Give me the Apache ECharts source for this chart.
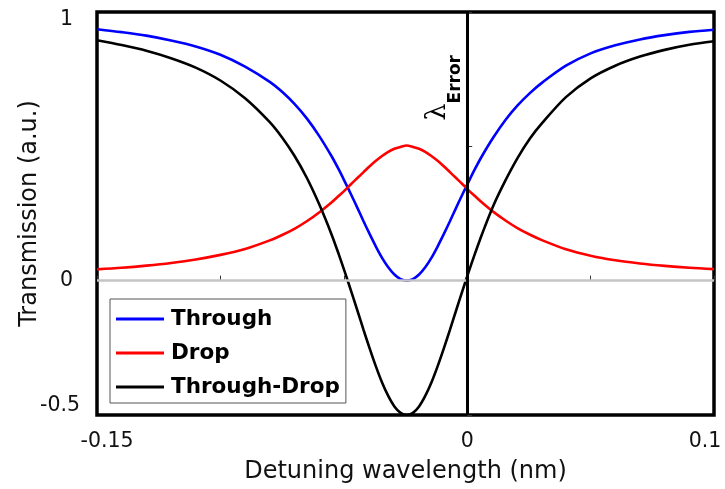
<!DOCTYPE html>
<html>
<head>
<meta charset="utf-8">
<script src="https://cdn.jsdelivr.net/npm/echarts@6/dist/echarts.min.js"></script>
<style>
  html, body { margin: 0; padding: 0; background: #fff; }
  #chart { width: 725px; height: 489px; }
</style>
</head>
<body>
<div id="chart"></div>
<script>
// Detuning wavelength samples (nm), shared by the three traces
const detuning = [
  -0.150, -0.140, -0.130, -0.120, -0.110, -0.100, -0.090, -0.080, -0.075, -0.070,
  -0.065, -0.060, -0.055, -0.052, -0.0495, -0.047, -0.0445, -0.042, -0.0395, -0.037,
  -0.0345, -0.032, -0.0295, -0.027, -0.0245, -0.022, -0.0195, -0.017, -0.0145, -0.012,
  -0.0095, -0.007, -0.0045, -0.002, 0.0005, 0.003, 0.006, 0.0105, 0.0155, 0.0205,
  0.0255, 0.0305, 0.040, 0.050, 0.060, 0.070, 0.080, 0.090, 0.100
];

// Through port transmission
const through = [
  0.936, 0.925, 0.912, 0.894, 0.872, 0.841, 0.797, 0.740, 0.703, 0.658,
  0.604, 0.539, 0.464, 0.413, 0.367, 0.320, 0.271, 0.221, 0.173, 0.127,
  0.085, 0.050, 0.023, 0.006, 0.000, 0.006, 0.023, 0.050, 0.085, 0.127,
  0.173, 0.221, 0.271, 0.320, 0.367, 0.413, 0.464, 0.532, 0.598, 0.653,
  0.699, 0.738, 0.800, 0.846, 0.876, 0.898, 0.914, 0.926, 0.934
];

// Drop port transmission
const drop = [
  0.042, 0.048, 0.056, 0.066, 0.079, 0.096, 0.118, 0.150, 0.170, 0.193,
  0.221, 0.254, 0.291, 0.316, 0.337, 0.360, 0.382, 0.404, 0.426, 0.446,
  0.464, 0.479, 0.491, 0.498, 0.503, 0.498, 0.491, 0.479, 0.464, 0.446,
  0.426, 0.404, 0.382, 0.360, 0.337, 0.316, 0.291, 0.257, 0.224, 0.195,
  0.171, 0.150, 0.117, 0.093, 0.076, 0.064, 0.055, 0.048, 0.043
];

// Difference signal: through minus drop
const throughMinusDrop = [
  0.895, 0.877, 0.856, 0.828, 0.793, 0.745, 0.679, 0.590, 0.533, 0.465,
  0.383, 0.285, 0.173, 0.097, 0.030, -0.040, -0.111, -0.183, -0.253, -0.319,
  -0.379, -0.429, -0.468, -0.492, -0.500, -0.492, -0.468, -0.429, -0.379, -0.319,
  -0.253, -0.183, -0.111, -0.040, 0.030, 0.097, 0.173, 0.277, 0.373, 0.458,
  0.530, 0.588, 0.683, 0.753, 0.800, 0.834, 0.859, 0.878, 0.891
];

// Labelled ticks
const xLabelTicks = [-0.15, 0, 0.1];
const xTickLabels = ['-0.15', '0', '0.1'];
const yLabelTicks = [-0.5, 0, 1];
const yTickLabels = ['-0.5', '0', '1'];

const errorWavelength = 0;
const seriesNames = ['Through', 'Drop', 'Through-Drop'];

const FONT = 'DejaVu Sans';
const pairs = (xs, ys) => xs.map((x, i) => [x, ys[i]]);
const near = (a, b) => Math.abs(a - b) < 1e-9;

function xFormatter(v) {
  for (let i = 0; i < xLabelTicks.length; i++) {
    if (near(v, xLabelTicks[i])) {
      const tag = i === 0 ? 'lo' : (i === xLabelTicks.length - 1 ? 'hi' : 'mid');
      return '{' + tag + '|' + xTickLabels[i] + '}';
    }
  }
  return '';
}
function yFormatter(v) {
  for (let i = 0; i < yLabelTicks.length; i++) {
    if (near(v, yLabelTicks[i])) {
      const tag = i === 0 ? 'bot' : (i === yLabelTicks.length - 1 ? 'top' : 'mid');
      return '{' + tag + '|' + yTickLabels[i] + '}';
    }
  }
  return '';
}

const chart = echarts.init(document.getElementById('chart'), null, { renderer: 'canvas' });

const lineBase = {
  type: 'line', symbol: 'none', smooth: 0.3, animation: false
};
const tickText = { fontFamily: FONT, fontSize: 20.5, color: '#111' };

chart.setOption({
  animation: false,
  backgroundColor: '#fff',
  textStyle: { fontFamily: FONT },
  grid: {
    left: 97, right: 11, top: 12, bottom: 72,
    show: true, borderColor: '#000', borderWidth: 3.5, backgroundColor: 'transparent'
  },
  legend: {
    orient: 'vertical', left: 110, top: 299,
    data: seriesNames,
    icon: 'rect', itemWidth: 48, itemHeight: 3, itemGap: 12,
    padding: [9, 6, 5, 6],
    backgroundColor: '#fff', borderColor: '#555', borderWidth: 1,
    textStyle: { fontFamily: FONT, fontSize: 21.5, fontWeight: 'bold', color: '#000', padding: [0, 0, 0, 2] }
  },
  xAxis: {
    type: 'value', min: -0.15, max: 0.1, interval: 0.05,
    name: 'Detuning wavelength (nm)', nameLocation: 'middle', nameGap: 45,
    nameMoveOverlap: false,
    nameTextStyle: { fontFamily: FONT, fontSize: 24, color: '#111' },
    axisLine: { show: false },
    axisTick: { show: true, inside: true, length: 5, lineStyle: { color: '#333', width: 1 } },
    splitLine: { show: false },
    axisLabel: Object.assign({
      show: true, showMinLabel: true, showMaxLabel: true, margin: 16,
      formatter: xFormatter,
      rich: {
        lo: Object.assign({ padding: [0, 0, 0, 20] }, tickText),
        mid: Object.assign({}, tickText),
        hi: Object.assign({ padding: [0, 18, 0, 0] }, tickText)
      }
    }, tickText)
  },
  yAxis: {
    type: 'value', min: -0.5, max: 1, interval: 0.5,
    name: 'Transmission (a.u.)', nameLocation: 'middle', nameGap: 55,
    nameMoveOverlap: false,
    nameTextStyle: { fontFamily: FONT, fontSize: 24, color: '#111' },
    axisLine: { show: false },
    axisTick: { show: true, inside: true, length: 5, lineStyle: { color: '#333', width: 1 } },
    splitLine: { show: false },
    axisLabel: Object.assign({
      show: true, showMinLabel: true, showMaxLabel: true, margin: 17,
      formatter: yFormatter,
      rich: {
        bot: Object.assign({ padding: [0, 0, 18, 0] }, tickText),
        mid: Object.assign({ padding: [0, 7, 0, 0] }, tickText),
        top: Object.assign({ padding: [16, 7, 0, 0] }, tickText)
      }
    }, tickText)
  },
  series: [
    Object.assign({}, lineBase, {
      name: seriesNames[0], z: 2,
      data: pairs(detuning, through),
      itemStyle: { color: '#0000ff' },
      lineStyle: { width: 2.6, color: '#0000ff' },
      markLine: {
        silent: true, symbol: 'none', animation: false,
        label: { show: false },
        lineStyle: { color: '#c4c4c4', width: 2.5, type: 'solid' },
        data: [{ yAxis: 0 }]
      }
    }),
    Object.assign({}, lineBase, {
      name: seriesNames[1], z: 3,
      data: pairs(detuning, drop),
      itemStyle: { color: '#ff0000' },
      lineStyle: { width: 2.6, color: '#ff0000' }
    }),
    Object.assign({}, lineBase, {
      name: seriesNames[2], z: 4,
      data: pairs(detuning, throughMinusDrop),
      itemStyle: { color: '#000' },
      lineStyle: { width: 2.6, color: '#000' },
      markLine: {
        silent: true, symbol: 'none', animation: false,
        lineStyle: { color: '#000', width: 3, type: 'solid' },
        label: {
          show: true, position: 'insideEndTop', distance: [43, 3],
          formatter: '{l|λ}{e|Error}',
          rich: {
            l: { fontFamily: 'DejaVu Serif', fontSize: 27, color: '#000', lineHeight: 40, verticalAlign: 'top' },
            e: { fontFamily: FONT, fontSize: 17, fontWeight: 'bold', color: '#000', lineHeight: 40, verticalAlign: 'bottom' }
          }
        },
        data: [{ xAxis: errorWavelength }]
      }
    })
  ]
});
</script>
</body>
</html>
